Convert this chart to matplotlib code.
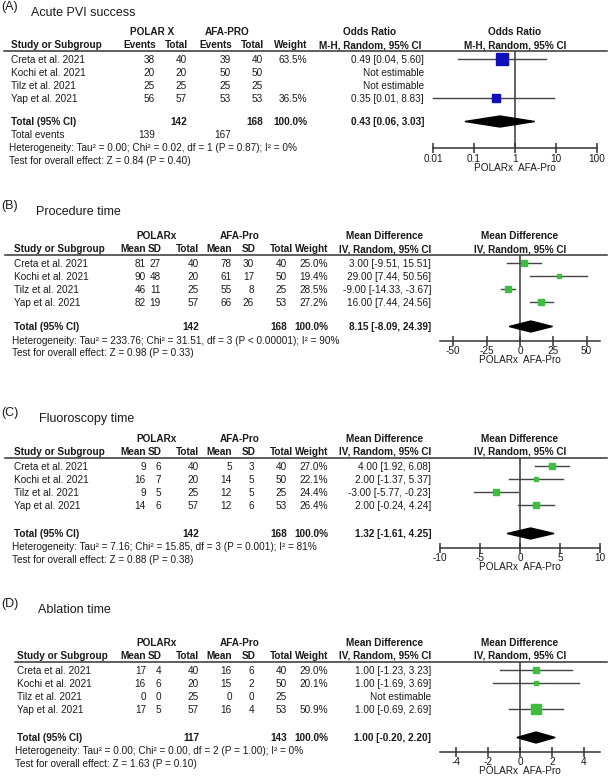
import matplotlib
matplotlib.use("Agg")
import matplotlib.pyplot as plt
from matplotlib.lines import Line2D
from matplotlib.ticker import NullLocator

W, H = 608, 777
plt.rcParams["font.family"] = ["Liberation Sans", "DejaVu Sans"]

studies = ["Creta et al. 2021", "Kochi et al. 2021", "Tilz et al. 2021", "Yap et al. 2021"]

# (A) acute PVI success - odds ratio
pvi_events_px = [38, 20, 25, 56]
pvi_total_px = [40, 20, 25, 57]
pvi_events_afa = [39, 50, 25, 53]
pvi_total_afa = [40, 50, 25, 53]
pvi_weight = [63.5, None, None, 36.5]
pvi_or = [0.49, None, None, 0.35]
pvi_lo = [0.04, None, None, 0.01]
pvi_hi = [5.60, None, None, 8.83]
pvi_pooled = [0.43, 0.06, 3.03]
pvi_n = [142, 168]
pvi_events_sum = [139, 167]
pvi_het = "Heterogeneity: Tau² = 0.00; Chi² = 0.02, df = 1 (P = 0.87); I² = 0%"
pvi_test = "Test for overall effect: Z = 0.84 (P = 0.40)"

# (B) procedure time - mean difference
proc_mean_px = [81, 90, 46, 82]
proc_sd_px = [27, 48, 11, 19]
proc_n_px = [40, 20, 25, 57]
proc_mean_afa = [78, 61, 55, 66]
proc_sd_afa = [30, 17, 8, 26]
proc_n_afa = [40, 50, 25, 53]
proc_weight = [25.0, 19.4, 28.5, 27.2]
proc_md = [3.00, 29.00, -9.00, 16.00]
proc_lo = [-9.51, 7.44, -14.33, 7.44]
proc_hi = [15.51, 50.56, -3.67, 24.56]
proc_pooled = [8.15, -8.09, 24.39]
proc_n = [142, 168]
proc_het = "Heterogeneity: Tau² = 233.76; Chi² = 31.51, df = 3 (P < 0.00001); I² = 90%"
proc_test = "Test for overall effect: Z = 0.98 (P = 0.33)"

# (C) fluoroscopy time
fluo_mean_px = [9, 16, 9, 14]
fluo_sd_px = [6, 7, 5, 6]
fluo_n_px = [40, 20, 25, 57]
fluo_mean_afa = [5, 14, 12, 12]
fluo_sd_afa = [3, 5, 5, 6]
fluo_n_afa = [40, 50, 25, 53]
fluo_weight = [27.0, 22.1, 24.4, 26.4]
fluo_md = [4.00, 2.00, -3.00, 2.00]
fluo_lo = [1.92, -1.37, -5.77, -0.24]
fluo_hi = [6.08, 5.37, -0.23, 4.24]
fluo_pooled = [1.32, -1.61, 4.25]
fluo_n = [142, 168]
fluo_het = "Heterogeneity: Tau² = 7.16; Chi² = 15.85, df = 3 (P = 0.001); I² = 81%"
fluo_test = "Test for overall effect: Z = 0.88 (P = 0.38)"

# (D) ablation time
abl_mean_px = [17, 16, 0, 17]
abl_sd_px = [4, 6, 0, 5]
abl_n_px = [40, 20, 25, 57]
abl_mean_afa = [16, 15, 0, 16]
abl_sd_afa = [6, 2, 0, 4]
abl_n_afa = [40, 50, 25, 53]
abl_weight = [29.0, 20.1, None, 50.9]
abl_md = [1.00, 1.00, None, 1.00]
abl_lo = [-1.23, -1.69, None, -0.69]
abl_hi = [3.23, 3.69, None, 2.69]
abl_pooled = [1.00, -0.20, 2.20]
abl_n = [117, 143]
abl_het = "Heterogeneity: Tau² = 0.00; Chi² = 0.00, df = 2 (P = 1.00); I² = 0%"
abl_test = "Test for overall effect: Z = 1.63 (P = 0.10)"

fig = plt.figure(figsize=(W / 100, H / 100), dpi=100)
INK = "#1a1a1a"


def put(x, y, s, ha="left", bold=False, size=7.2):
    fig.text(x / W, 1 - y / H, s, ha=ha, va="center", fontsize=size,
             fontweight="bold" if bold else "normal", color=INK)


def fmt_ci(e, l, h):
    return f"{e:.2f} [{l:.2f}, {h:.2f}]"


ev_cols = [("Events", 156, 155), ("Total", 188, 187), ("Events", 232, 231), ("Total", 264, 263)]
md_cols = [("Mean", 146, 146), ("SD", 162, 161), ("Total", 199, 199),
           ("Mean", 232, 232), ("SD", 256, 254), ("Total", 293, 287)]


def draw_panel(p):
    g = p["g"]
    line_y = g + 19
    rows_y = [g + 28 + 13 * i for i in range(len(studies))]
    tot_y = p["total_y"]
    nx = p["name_x"]

    put(1, p["title_y"] - 6, "(" + p["letter"] + ")", size=9)
    put(p["title_x"], p["title_y"], p["title"], size=9)

    for lab, cx in p["groups"]:
        put(cx, g, lab, ha="center", bold=True)
    put(nx, g + 13, "Study or Subgroup", bold=True)
    for lab, hx, vx in p["cols"]:
        put(hx, g + 13, lab, ha="right", bold=True)
    put(p["w_x"], g + 13, "Weight", ha="right", bold=True)
    put(p["ci_head"], g, p["measure"], ha="center", bold=True)
    put(p["ci_head"], g + 13, p["method"], ha="center", bold=True)
    put(p["zero_x"], g, p["measure"], ha="center", bold=True)
    put(p["zero_x"], g + 13, p["method"], ha="center", bold=True)
    fig.add_artist(Line2D([p["line_x0"] / W, 607 / W], [1 - line_y / H] * 2,
                          color="#333333", lw=1.1))

    # study rows
    for i, name in enumerate(studies):
        y = rows_y[i]
        put(nx, y, name)
        for (lab, hx, vx), vals in zip(p["cols"], p["values"]):
            put(vx, y, str(vals[i]), ha="right")
        w = p["weight"][i]
        if w is not None:
            put(p["w_x"], y, f"{w:.1f}%", ha="right")
        if p["est"][i] is None:
            put(p["ci_x"], y, "Not estimable", ha="right")
        else:
            put(p["ci_x"], y, fmt_ci(p["est"][i], p["lo"][i], p["hi"][i]), ha="right")

    # total row
    put(nx, tot_y, "Total (95% CI)", bold=True)
    for k, n in zip(p["n_cols"], p["n"]):
        put(p["cols"][k][2], tot_y, str(n), ha="right", bold=True)
    put(p["w_x"], tot_y, "100.0%", ha="right", bold=True)
    put(p["ci_x"], tot_y, fmt_ci(*p["pooled"]), ha="right", bold=True)

    fy = tot_y + 13.5
    if "events" in p:
        put(nx, fy, "Total events")
        for k, n in zip(p["ev_cols"], p["events"]):
            put(p["cols"][k][2], fy, str(n), ha="right")
        fy += 12.5
    axis_y = fy
    put(nx - 2, fy, p["het"])
    put(nx - 2, fy + 12.5, p["test"])

    # forest plot
    x0, x1 = p["fx"]
    ax = fig.add_axes([x0 / W, 1 - axis_y / H, (x1 - x0) / W, (axis_y - line_y) / H])
    ax.patch.set_alpha(0)
    if p["log"]:
        ax.set_xscale("log")
    ax.set_xlim(p["xlim"])
    ax.set_ylim(axis_y, line_y)
    for s in ["top", "left", "right"]:
        ax.spines[s].set_visible(False)
    ax.spines["bottom"].set_color("#333333")
    ax.spines["bottom"].set_linewidth(1.1)
    ax.set_yticks([])
    ax.set_xticks(p["ticks"])
    ax.set_xticklabels(p["ticklabels"])
    ax.xaxis.set_minor_locator(NullLocator())
    ax.tick_params(axis="x", direction="inout", length=7, width=1.1, color="#333333",
                   labelsize=7.2, labelcolor=INK, pad=0.5)
    ref = 1 if p["log"] else 0
    ax.axvline(ref, color="#555555", lw=1.3, zorder=1)

    for i in range(len(studies)):
        if p["est"][i] is None:
            continue
        y = rows_y[i] - 1
        ax.plot([p["lo"][i], p["hi"][i]], [y, y], color="#444444", lw=1.0,
                clip_on=False, zorder=2)
        side = 1 + 0.17 * p["weight"][i]
        ax.plot([p["est"][i]], [y], marker="s", ms=side * 0.72, color=p["color"],
                mec=p["color"], clip_on=False, zorder=3)

    e, l, h = p["pooled"]
    dy = tot_y - 0.5
    ax.fill([l, e, h, e], [dy, dy - 5.5, dy, dy + 5.5], color="black", zorder=3,
            clip_on=False)

    fig.text(p["zero_x"] / W, 1 - (axis_y + 20) / H, "POLARx  AFA-Pro", ha="center",
             va="center", fontsize=7.2, color=INK)


md_common = dict(cols=md_cols, n_cols=[2, 5], w_x=328, ci_x=431, ci_head=385,
                 measure="Mean Difference", method="IV, Random, 95% CI", zero_x=520,
                 fx=(440, 600), log=False, color="#3cbf3c",
                 groups=[("POLARx", 157), ("AFA-Pro", 240)])

panels = [
    dict(letter="A", title="Acute PVI success", title_y=13, title_x=31, g=32, total_y=122,
         name_x=11, line_x0=4, cols=ev_cols, n_cols=[1, 3], ev_cols=[0, 2],
         values=[pvi_events_px, pvi_total_px, pvi_events_afa, pvi_total_afa],
         weight=pvi_weight, est=pvi_or, lo=pvi_lo, hi=pvi_hi, pooled=pvi_pooled,
         n=pvi_n, events=pvi_events_sum, het=pvi_het, test=pvi_test,
         w_x=307, ci_x=424, ci_head=370, measure="Odds Ratio",
         method="M-H, Random, 95% CI", zero_x=515, fx=(433, 597), log=True,
         xlim=(0.01, 100), ticks=[0.01, 0.1, 1, 10, 100],
         ticklabels=["0.01", "0.1", "1", "10", "100"], color="#1010c0",
         groups=[("POLAR X", 152), ("AFA-PRO", 227)]),
    dict(md_common, letter="B", title="Procedure time", title_y=212, title_x=36, g=236,
         total_y=327, name_x=14, line_x0=5,
         values=[proc_mean_px, proc_sd_px, proc_n_px, proc_mean_afa, proc_sd_afa, proc_n_afa],
         weight=proc_weight, est=proc_md, lo=proc_lo, hi=proc_hi, pooled=proc_pooled,
         n=proc_n, het=proc_het, test=proc_test, xlim=(-60, 60),
         ticks=[-50, -25, 0, 25, 50], ticklabels=["-50", "-25", "0", "25", "50"]),
    dict(md_common, letter="C", title="Fluoroscopy time", title_y=419, title_x=39, g=439,
         total_y=534, name_x=14, line_x0=5,
         values=[fluo_mean_px, fluo_sd_px, fluo_n_px, fluo_mean_afa, fluo_sd_afa, fluo_n_afa],
         weight=fluo_weight, est=fluo_md, lo=fluo_lo, hi=fluo_hi, pooled=fluo_pooled,
         n=fluo_n, het=fluo_het, test=fluo_test, xlim=(-10, 10),
         ticks=[-10, -5, 0, 5, 10], ticklabels=["-10", "-5", "0", "5", "10"]),
    dict(md_common, letter="D", title="Ablation time", title_y=610, title_x=38, g=643,
         total_y=738, name_x=17, line_x0=15,
         values=[abl_mean_px, abl_sd_px, abl_n_px, abl_mean_afa, abl_sd_afa, abl_n_afa],
         weight=abl_weight, est=abl_md, lo=abl_lo, hi=abl_hi, pooled=abl_pooled,
         n=abl_n, het=abl_het, test=abl_test, xlim=(-5, 5),
         ticks=[-4, -2, 0, 2, 4], ticklabels=["-4", "-2", "0", "2", "4"]),
]

for p in panels:
    draw_panel(p)

fig.savefig("out.png", dpi=100)
